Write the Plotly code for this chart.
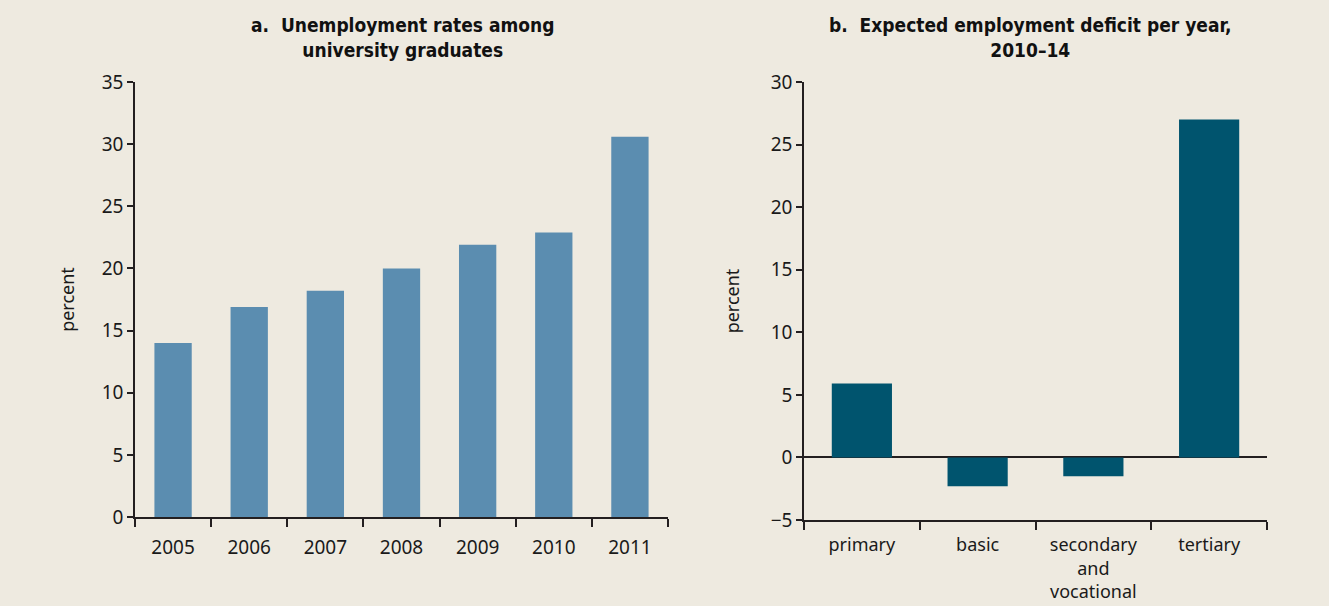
import plotly.graph_objects as go

# Panel a data
years = ["2005", "2006", "2007", "2008", "2009", "2010", "2011"]
unemployment = [14.0, 16.9, 18.2, 20.0, 21.9, 22.9, 30.6]

# Panel b data
levels = ["primary", "basic", "secondary<br>and<br>vocational", "tertiary"]
deficit = [5.9, -2.3, -1.5, 27.0]

title_a = "<b>a.  Unemployment rates among<br>university graduates</b>"
title_b = "<b>b.  Expected employment deficit per year,<br>2010–14</b>"

W, H = 1329, 606
BG = "#EEEAE0"
AX = "#231F20"
TICKFONT = dict(family="Noto Sans, Open Sans, sans-serif", size=19, color="#1a1a1a")
LABELFONT = dict(family="Noto Sans, Open Sans, sans-serif", size=18, color="#1a1a1a")
TITLEFONT = dict(family="Liberation Sans Narrow, DejaVu Sans Condensed, Arial Narrow, Noto Sans, sans-serif",
                 size=19, color="#111111")

fig = go.Figure()
fig.add_trace(go.Bar(x=years, y=unemployment, marker=dict(color="#5B8DB0", line=dict(width=0)),
                     width=0.49, xaxis="x", yaxis="y", showlegend=False))
fig.add_trace(go.Bar(x=levels, y=deficit, marker=dict(color="#00546E", line=dict(width=0)),
                     width=0.52, xaxis="x2", yaxis="y2", showlegend=False))

def px_x(p):
    return p / W

def px_y(p):
    return 1 - p / H

common_x = dict(type="category", showline=True, linecolor=AX, linewidth=1.5, ticks="outside",
                tickson="boundaries", ticklen=8, tickwidth=1.5, tickcolor=AX, showgrid=False,
                zeroline=False, fixedrange=True, automargin=False)
common_y = dict(showline=True, linecolor=AX, linewidth=1.5, ticks="outside", ticklen=6, tickwidth=1.5,
                tickcolor=AX, showgrid=False, tickfont=TICKFONT, dtick=5, automargin=False)

fig.update_layout(
    template="none",
    width=W, height=H, autosize=False,
    margin=dict(l=0, r=0, t=0, b=0, pad=0),
    paper_bgcolor=BG, plot_bgcolor=BG,
    xaxis=dict(**common_x, domain=[px_x(135), px_x(668)], anchor="y", range=[-0.5, 6.5],
               tickfont=TICKFONT, ticklabelstandoff=12),
    yaxis=dict(**common_y, domain=[px_y(517), px_y(82)], anchor="x", range=[0, 35], zeroline=False,
               title=dict(text="percent", font=LABELFONT, standoff=22)),
    xaxis2=dict(**common_x, domain=[px_x(804), px_x(1267)], anchor="y2", range=[-0.5, 3.5],
                tickfont=LABELFONT, ticklabelstandoff=8),
    yaxis2=dict(**common_y, domain=[px_y(520), px_y(82)], anchor="x2", range=[-5, 30],
                zeroline=True, zerolinecolor=AX, zerolinewidth=1.5,
                title=dict(text="percent", font=LABELFONT, standoff=26)),
    annotations=[
        dict(text=title_a, x=px_x(402), y=px_y(38), xref="paper", yref="paper",
             xanchor="center", yanchor="middle", showarrow=False, font=TITLEFONT, align="center"),
        dict(text=title_b, x=px_x(1030), y=px_y(38), xref="paper", yref="paper",
             xanchor="center", yanchor="middle", showarrow=False, font=TITLEFONT, align="center"),
    ],
)

post = ("document.body.style.margin='0';document.body.style.padding='0';"
        "document.body.style.overflow='hidden';document.body.style.background='#EEEAE0';")
fig.write_html("out.html", post_script=post,
               config={"displayModeBar": False})
